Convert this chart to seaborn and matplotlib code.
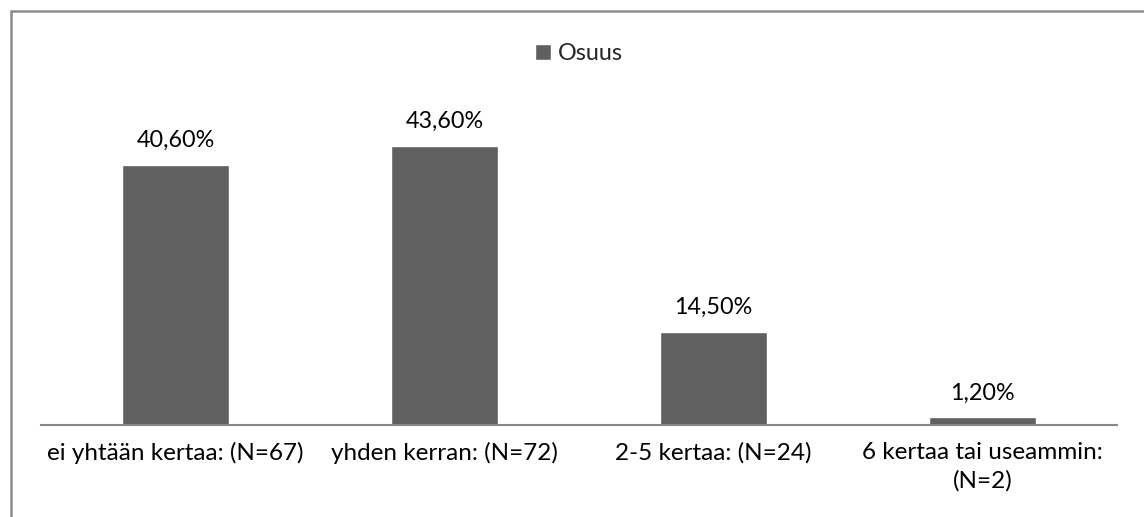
import matplotlib.pyplot as plt
import seaborn as sns
import pandas as pd
from matplotlib.patches import Rectangle

categories = ["ei yhtään kertaa: (N=67)", "yhden kerran: (N=72)",
              "2-5 kertaa: (N=24)", "6 kertaa tai useammin:\n(N=2)"]
values = [40.6, 43.6, 14.5, 1.2]
labels = ["40,60%", "43,60%", "14,50%", "1,20%"]
series = "Osuus"

sns.set_theme(style="white")
plt.rcParams['font.family'] = ['Lato', 'DejaVu Sans']

df = pd.DataFrame({"kategoria": categories, "osuus": values})

fig = plt.figure(figsize=(11.44, 5.17), dpi=100)
ax = fig.add_axes([41 / 1144, 1 - 425 / 517, 1076 / 1144, 320 / 517])
sns.barplot(data=df, x="kategoria", y="osuus", color="#606060", width=0.4,
            saturation=1, label=series, ax=ax)

for i, (v, t) in enumerate(zip(values, labels)):
    ax.text(i, v + 2.8, t, ha="center", va="baseline", fontsize=16.8, color="#000000")

ax.set_ylim(0, 50)
ax.set_xlabel("")
ax.set_ylabel("")
ax.set_yticks([])
for s in ["top", "left", "right"]:
    ax.spines[s].set_visible(False)
ax.spines["bottom"].set_color("#868686")
ax.spines["bottom"].set_linewidth(1.5)
ax.tick_params(axis="x", length=0, pad=12, labelsize=17.5, colors="#000000")
for lab in ax.get_xticklabels():
    lab.set_linespacing(1.4)

ax.legend(loc="upper center", bbox_to_anchor=(0.5, 1 + 83 / 320),
          frameon=False, fontsize=16.8, handlelength=0.65, handleheight=0.65,
          handletextpad=0.3)

# outer chart frame (cropped at right/bottom)
fig.patches.append(Rectangle((11 / 1144, -0.1), 1.2, 1 - 11 / 517 + 0.1,
                             transform=fig.transFigure, fill=False,
                             edgecolor="#8c8c8c", linewidth=1.8))

fig.savefig("out.png", dpi=100)
